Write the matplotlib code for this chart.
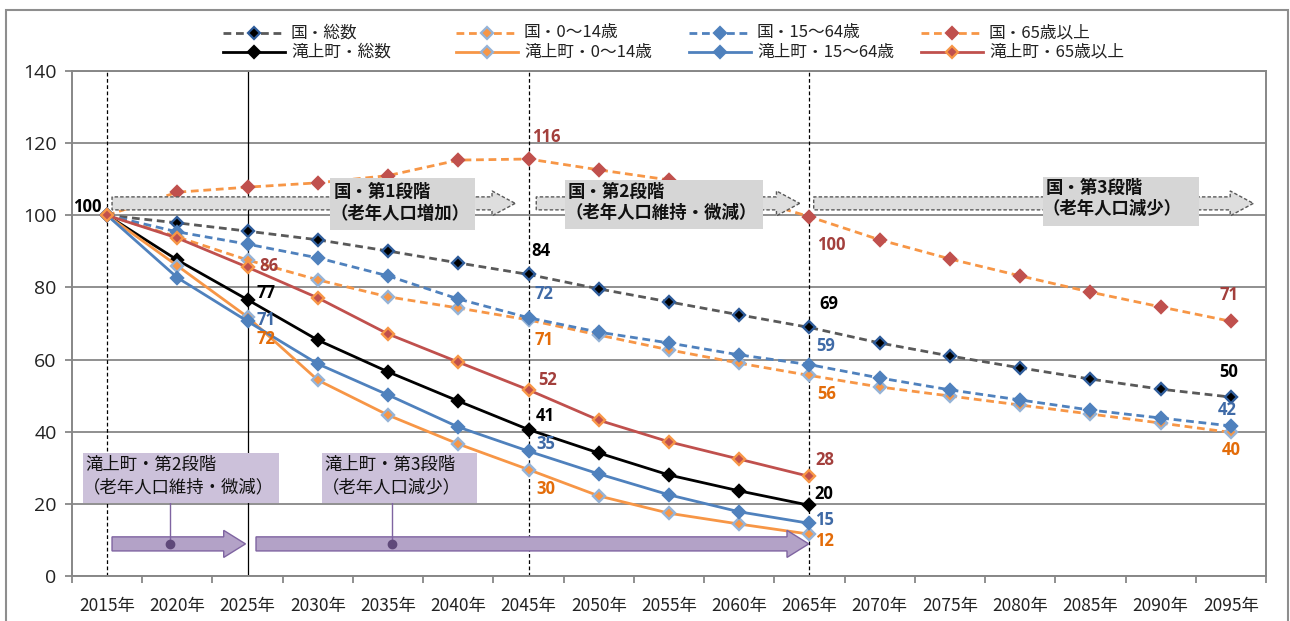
import matplotlib
matplotlib.use("Agg")
import matplotlib.pyplot as plt
from matplotlib.lines import Line2D
from matplotlib.patches import FancyArrow, Rectangle

plt.rcParams['font.family'] = ['Noto Sans CJK JP', 'DejaVu Sans']

# 指数（2015年=100）
years = [2015, 2020, 2025, 2030, 2035, 2040, 2045, 2050, 2055,
         2060, 2065, 2070, 2075, 2080, 2085, 2090, 2095]
year_labels = [f"{y}年" for y in years]

nat_total = [100, 97.9, 95.6, 93.2, 90.1, 86.8, 83.6, 79.6, 76.0,
             72.4, 68.9, 64.6, 61.0, 57.7, 54.6, 51.8, 49.6]
nat_0_14 = [100, 94.0, 87.6, 82.1, 77.4, 74.3, 71.0, 66.8, 62.7,
            59.0, 55.6, 52.4, 49.9, 47.4, 44.9, 42.4, 39.8]
nat_15_64 = [100, 95.4, 92.0, 88.2, 83.2, 76.8, 71.6, 67.6, 64.6,
             61.3, 58.6, 54.9, 51.6, 48.8, 46.0, 43.8, 41.6]
nat_65 = [100, 106.4, 107.8, 109.0, 111.0, 115.3, 115.6, 112.6, 109.8,
          105.5, 99.6, 93.2, 87.9, 83.2, 78.7, 74.6, 70.6]

town_total = [100, 87.6, 76.6, 65.4, 56.6, 48.5, 40.6, 34.1, 28.0, 23.6, 19.6]
town_0_14 = [100, 86.0, 71.8, 54.3, 44.6, 36.6, 29.5, 22.2, 17.4, 14.4, 11.6]
town_15_64 = [100, 82.7, 70.6, 58.8, 50.2, 41.3, 34.6, 28.3, 22.5, 17.8, 14.6]
town_65 = [100, 93.7, 85.6, 77.1, 67.1, 59.3, 51.6, 43.2, 37.2, 32.4, 27.6]

nat_label_idx = [6, 10, 16]     # 2045, 2065, 2095
town_label_idx = [2, 6, 10]     # 2025, 2045, 2065

ORANGE = '#F79646'
BLUE = '#4F81BD'
RED = '#C0504D'
LBLUE = '#95B3D7'
GRID = '#878787'

LBL_BLACK = '#000000'
LBL_BLUE = '#3F6AA6'
LBL_ORANGE = '#E36C09'
LBL_RED = '#A33F3C'

DASH = (2.8, 1.7)
NUM_FONT = ['Open Sans', 'DejaVu Sans']

# (名前, 値, 線色, 線種, マーカー面, マーカー枠, ラベル色, ラベル位置[px])
series = [
    ("国・総数", nat_total, '#595959', 'dash', '#000000', '#2E5C9A', LBL_BLACK,
     [(12, -23), (19, -23), (-2, -25)]),
    ("国・0～14歳", nat_0_14, ORANGE, 'dash', ORANGE, LBLUE, LBL_ORANGE,
     [(15, 20), (17, 19), (0, 18)]),
    ("国・15～64歳", nat_15_64, BLUE, 'dash', BLUE, BLUE, LBL_BLUE,
     [(15, -24), (16, -19), (-4, -16)]),
    ("国・65歳以上", nat_65, ORANGE, 'dash', RED, RED, LBL_RED,
     [(18, -22), (22, 28), (-2, -26)]),
    ("滝上町・総数", town_total, '#000000', 'solid', '#000000', '#000000', LBL_BLACK,
     [(18, -7), (17, -14), (14, -11)]),
    ("滝上町・0～14歳", town_0_14, ORANGE, 'solid', ORANGE, LBLUE, LBL_ORANGE,
     [(18, 22), (17, 19), (15, 7)]),
    ("滝上町・15～64歳", town_15_64, BLUE, 'solid', BLUE, BLUE, LBL_BLUE,
     [(18, -1), (17, -7), (15, -3)]),
    ("滝上町・65歳以上", town_65, RED, 'solid', RED, ORANGE, LBL_RED,
     [(21, -1), (19, -10), (15, -16)]),
]

fig = plt.figure(figsize=(12.9, 6.21), dpi=100)
W, H = 1290, 621
ax = fig.add_axes([72 / W, 45 / H, (1266 - 72) / W, (576 - 71) / H])

# 外枠
fig.add_artist(Rectangle((6 / W, -0.02), (1288 - 6) / W, (621 - 10) / H + 0.02,
                         transform=fig.transFigure, fill=False,
                         ec='#8E8E8E', lw=1.5))

ax.set_xlim(-0.5, len(years) - 0.5)
ax.set_ylim(0, 140)
ax.set_yticks(range(0, 141, 20))
ax.yaxis.grid(True, color=GRID, lw=1.3)
ax.set_axisbelow(True)
ax.set_xticks(range(len(years)))
ax.set_xticklabels(year_labels, fontsize=12.5, color='#222222')
ax.set_xticks([i - 0.5 for i in range(len(years) + 1)], minor=True)
ax.tick_params(axis='x', which='major', length=0, pad=15)
ax.tick_params(axis='x', which='minor', length=5, width=1.3, color=GRID)
ax.tick_params(axis='y', length=5, width=1.3, color=GRID, labelsize=14,
               labelcolor='#222222', pad=6)
for lab in ax.get_yticklabels():
    lab.set_family(NUM_FONT)
for s in ax.spines.values():
    s.set_color(GRID)
    s.set_linewidth(1.4)

# 段階の区切り線
for xi, ls in [(0, (0, (3, 2))), (2, '-'), (6, (0, (3, 2))), (10, (0, (3, 2)))]:
    ax.axvline(xi, color='#000000', lw=0.9, ls=ls, zorder=1)

legend_handles = []
for name, vals, lc, style, mfc, mec, lcol, offs in series:
    x = list(range(len(vals)))
    kw = dict(color=lc, lw=2.0, marker='D', markersize=6.5, mfc=mfc, mec=mec,
              mew=1.7, zorder=3)
    if style == 'dash':
        line, = ax.plot(x, vals, dashes=DASH, **kw)
    else:
        line, = ax.plot(x, vals, **kw)
    legend_handles.append((name, line))
    idxs = nat_label_idx if name.startswith("国") else town_label_idx
    for i, (dx, dy) in zip(idxs, offs):
        ax.annotate(f"{vals[i]:.0f}", (i, vals[i]), xytext=(dx * 0.72, -dy * 0.72),
                    textcoords='offset points', ha='center', va='center',
                    fontsize=12, fontweight='bold', color=lcol,
                    family=NUM_FONT, zorder=6)

ax.annotate(f"{nat_total[0]:.0f}", (0, nat_total[0]), xytext=(-20 * 0.72, 8 * 0.72),
            textcoords='offset points', ha='center', va='center', fontsize=12,
            fontweight='bold', color=LBL_BLACK, family=NUM_FONT)

# 国の段階（灰色の矢印と説明）
for x0, x1 in [(0.07, 5.81), (6.11, 9.86), (10.06, 16.32)]:
    ax.add_patch(FancyArrow(x0, 103.3, x1 - x0, 0, width=3.6, head_width=6.9,
                            head_length=0.33, length_includes_head=True,
                            fc='#DEDEDE', ec='#595959', lw=1.0, ls=(0, (2.5, 1.5)),
                            zorder=4))
nat_boxes = [
    (3.18, 5.24, 95.9, 110.3, 106.4, 100.4, "国・第1段階", "（老年人口増加）"),
    (6.52, 9.34, 96.2, 109.8, 106.4, 100.6, "国・第2段階", "（老年人口維持・微減）"),
    (13.32, 15.54, 97.0, 110.6, 107.6, 101.7, "国・第3段階", "（老年人口減少）"),
]
for x0, x1, y0, y1, t1, t2, s1, s2 in nat_boxes:
    ax.add_patch(Rectangle((x0, y0), x1 - x0, y1 - y0, fc='#D6D6D6', ec='none',
                           zorder=5))
    ax.text(x0 + 0.04, t1, s1, fontsize=12.5, fontweight='bold', va='center',
            ha='left', color='#111111', zorder=6)
    ax.text(x0 + 0.0, t2, s2, fontsize=12.5, fontweight='bold', va='center',
            ha='left', color='#111111', zorder=6)

# 滝上町の段階（紫の矢印と説明）
for x0, x1 in [(0.07, 1.97), (2.12, 9.99)]:
    ax.add_patch(FancyArrow(x0, 8.9, x1 - x0, 0, width=3.9, head_width=7.5,
                            head_length=0.31, length_includes_head=True,
                            fc='#B3A2C7', ec='#7F64A1', lw=1.0, zorder=4))
town_boxes = [
    (-0.34, 2.45, 0.90, "滝上町・第2段階", "（老年人口維持・微減）"),
    (3.06, 5.27, 4.06, "滝上町・第3段階", "（老年人口減少）"),
]
for x0, x1, xc, s1, s2 in town_boxes:
    ax.plot([xc, xc], [20.2, 8.9], color='#7F64A1', lw=1.0, zorder=5, clip_on=False)
    ax.plot([xc], [8.9], marker='o', markersize=6, color='#5F497A', zorder=6)
    ax.add_patch(Rectangle((x0, 20.2), x1 - x0, 34.1 - 20.2, fc='#CCC1DA',
                           ec='none', zorder=5, clip_on=False))
    ax.text(x0 + 0.03, 30.8, s1, fontsize=12.5, va='center', ha='left',
            color='#111111', zorder=6)
    ax.text(x0 + 0.0, 24.7, s2, fontsize=12.5, va='center', ha='left',
            color='#111111', zorder=6)

# 凡例（2行×4列）
col_x = [223, 456, 689, 921]
row_y = [33, 52]
for k, (name, line) in enumerate(legend_handles):
    row, col = divmod(k, 4)
    x0 = col_x[col]
    y = 1 - row_y[row] / H
    lkw = dict(color=line.get_color(), lw=2.0, transform=fig.transFigure)
    if line.get_linestyle() != '-':
        lkw['dashes'] = DASH
    fig.add_artist(Line2D([x0 / W, (x0 + 62) / W], [y, y], **lkw))
    fig.add_artist(Line2D([(x0 + 31) / W], [y], marker='D', markersize=6,
                          mfc=line.get_markerfacecolor(),
                          mec=line.get_markeredgecolor(), mew=1.6,
                          transform=fig.transFigure, ls='none'))
    fig.text((x0 + 68) / W, y, name, fontsize=12, va='center', ha='left',
             color='#222222')

fig.savefig("out.png", dpi=100)
